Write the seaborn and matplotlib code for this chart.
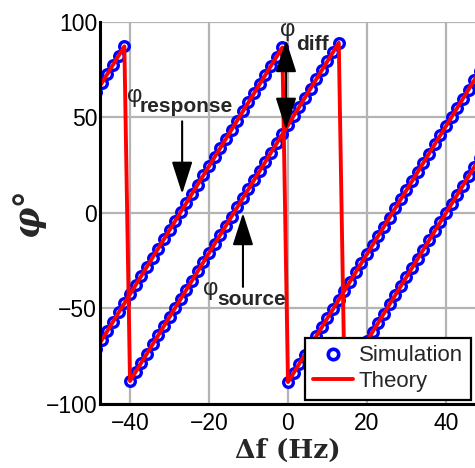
import matplotlib
matplotlib.use("Agg")
import matplotlib.pyplot as plt
from matplotlib.lines import Line2D
import seaborn as sns

# Frequency offset grid (Hz)
delta_f = [-48.57, -47.14, -45.71, -44.29, -42.86, -41.43, -40.00, -38.57, -37.14,
           -35.71, -34.29, -32.86, -31.43, -30.00, -28.57, -27.14, -25.71, -24.29,
           -22.86, -21.43, -20.00, -18.57, -17.14, -15.71, -14.29, -12.86, -11.43,
           -10.00, -8.57, -7.14, -5.71, -4.29, -2.86, -1.43, 0.00, 1.43, 2.86, 4.29,
           5.71, 7.14, 8.57, 10.00, 11.43, 12.86, 14.29, 15.71, 17.14, 18.57, 20.00,
           21.43, 22.86, 24.29, 25.71, 27.14, 28.57, 30.00, 31.43, 32.86, 34.29,
           35.71, 37.14, 38.57, 40.00, 41.43, 42.86, 44.29, 45.71, 47.14, 48.57]

# Response phase (degrees)
phi_response = [-71.25, -66.46, -61.68, -56.89, -52.10, -47.32, -42.53, -37.75, -32.96,
                -28.17, -23.39, -18.60, -13.82, -9.03, -4.25, 0.54, 5.33, 10.11,
                14.90, 19.68, 24.47, 29.25, 34.04, 38.83, 43.61, 48.40, 53.18,
                57.97, 62.75, 67.54, 72.33, 77.11, 81.90, 86.68, -88.53, -83.75,
                -78.96, -74.18, -69.39, -64.61, -59.82, -55.03, -50.25, -45.46,
                -40.68, -35.89, -31.11, -26.32, -21.53, -16.75, -11.96, -7.18,
                -2.39, 2.40, 7.18, 11.97, 16.75, 21.54, 26.33, 31.11, 35.90, 40.68,
                45.47, 50.25, 55.04, 59.83, 64.61, 69.40, 74.18]

# Source phase (degrees)
phi_source = [63.30, 68.08, 72.87, 77.65, 82.44, 87.22, -87.99, -83.20, -78.42,
              -73.63, -68.85, -64.06, -59.28, -54.49, -49.70, -44.92, -40.13, -35.35,
              -30.56, -25.78, -20.99, -16.20, -11.42, -6.63, -1.85, 2.94, 7.72,
              12.51, 17.30, 22.08, 26.87, 31.65, 36.44, 41.22, 46.01, 50.80, 55.58,
              60.37, 65.15, 69.94, 74.73, 79.51, 84.30, 89.08, -86.13, -81.35,
              -76.56, -71.78, -66.99, -62.20, -57.42, -52.63, -47.85, -43.06,
              -38.28, -33.49, -28.70, -23.92, -19.13, -14.35, -9.56, -4.78, 0.01,
              4.79, 9.58, 14.36, 19.15, 23.94, 28.72]

x_ticks = [-40, -20, 0, 20, 40]
y_ticks = [-100, -50, 0, 50, 100]

sns.set_style("white")
plt.rcParams["font.family"] = ["Liberation Sans", "DejaVu Sans"]

fig = plt.figure(figsize=(4.75, 4.68), dpi=100)
ax = fig.add_axes([0.2105, 0.1368, 0.7895, 0.8162])

sim_kw = dict(marker="o", s=48, facecolor="white", edgecolor="blue",
              linewidth=2.4, zorder=3, ax=ax, legend=False)
sns.scatterplot(x=delta_f, y=phi_response, **sim_kw)
sns.scatterplot(x=delta_f, y=phi_source, **sim_kw)

th_kw = dict(color="red", linewidth=2.8, zorder=4, ax=ax, sort=False)
sns.lineplot(x=delta_f, y=phi_response, **th_kw)
sns.lineplot(x=delta_f, y=phi_source, **th_kw)

ax.set_xlim(-47.6, 47.35)
ax.set_ylim(-100, 100)
ax.set_xticks(x_ticks)
ax.set_yticks(y_ticks)
ax.grid(True, color="#b4b4b4", linewidth=1.6, zorder=0)
ax.set_axisbelow(True)
ax.tick_params(axis="both", length=0, labelsize=16.5, colors="black")
ax.tick_params(axis="x", pad=6)
ax.tick_params(axis="y", pad=2)

for side in ("top", "right"):
    ax.spines[side].set_visible(False)
for side in ("left", "bottom"):
    ax.spines[side].set_color("black")
    ax.spines[side].set_linewidth(2.2)
    ax.spines[side].set_zorder(5)

ax.set_xlabel("Δf (Hz)", family="DejaVu Serif", fontweight="bold",
              fontsize=19, labelpad=2)
ax.set_ylabel("φ°", family="DejaVu Serif", fontweight="bold", fontstyle="italic",
              fontsize=25, labelpad=0)

# Curve annotations
sub_kw = dict(fontsize=15, fontweight="bold", ha="left", va="baseline", zorder=6)
phi_kw = dict(fontsize=17, ha="center", va="center", zorder=6)

ax.text(-38.7, 61.3, "φ", **phi_kw)
ax.text(-37.5, 52.9, "response", **sub_kw)
ax.text(-19.5, -39.8, "φ", **phi_kw)
ax.text(-18.0, -48.2, "source", **sub_kw)
ax.text(0.0, 95.8, "φ", **phi_kw)
ax.text(2.0, 85.3, "diff", **sub_kw)

arrow_kw = dict(color="black", lw=1.5, mutation_scale=20, shrinkA=0, shrinkB=0)
ax.annotate("", xy=(-26.8, 10.0), xytext=(-26.8, 48.0),
            arrowprops=dict(arrowstyle="-|>,head_length=1.0,head_width=0.32", **arrow_kw),
            zorder=6)
ax.annotate("", xy=(-11.4, 0.0), xytext=(-11.4, -38.7),
            arrowprops=dict(arrowstyle="-|>,head_length=1.0,head_width=0.32", **arrow_kw),
            zorder=6)
ax.annotate("", xy=(-0.5, 90.6), xytext=(-0.5, 43.5),
            arrowprops=dict(arrowstyle="<|-|>,head_length=1.0,head_width=0.32", **arrow_kw),
            zorder=6)

handles = [
    Line2D([], [], linestyle="none", marker="o", markersize=7.5,
           markerfacecolor="white", markeredgecolor="blue", markeredgewidth=2.6),
    Line2D([], [], color="red", linewidth=2.8),
]
leg = ax.legend(handles, ["Simulation", "Theory"], loc="lower right",
                fontsize=16, frameon=True, fancybox=False, framealpha=1,
                edgecolor="black", borderpad=0.35, labelspacing=0.2,
                handlelength=1.8, handletextpad=0.25, borderaxespad=0.2)
leg.get_frame().set_linewidth(1.6)
leg.set_zorder(7)

fig.savefig("out.png", dpi=100)
